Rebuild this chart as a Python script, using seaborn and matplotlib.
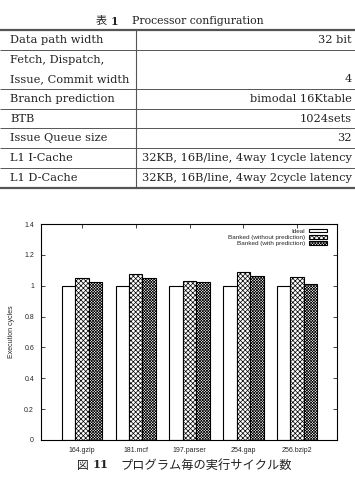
import numpy as np
import pandas as pd
import matplotlib
matplotlib.use("Agg")
import matplotlib.pyplot as plt
import seaborn as sns
from matplotlib.patches import Patch

# ---------------- data ----------------
table_title = "Processor configuration"
table_labels = ["Data path width", "Fetch, Dispatch,\nIssue, Commit width", "Branch prediction",
                "BTB", "Issue Queue size", "L1 I-Cache", "L1 D-Cache"]
table_values = ["32 bit", "4", "bimodal 16Ktable", "1024sets", "32",
                "32KB, 16B/line, 4way 1cycle latency", "32KB, 16B/line, 4way 2cycle latency"]

benchmarks = ["164.gzip", "181.mcf", "197.parser", "254.gap", "256.bzip2"]
series = ["Ideal", "Banked (without prediction)", "Banked (with prediction)"]
ideal = [1.0, 1.0, 1.0, 1.0, 1.0]
banked_wo = [1.048, 1.074, 1.030, 1.086, 1.056]
banked_w = [1.024, 1.052, 1.024, 1.061, 1.011]
yticks = [0, 0.2, 0.4, 0.6, 0.8, 1.0, 1.2, 1.4]
ytick_labels = ["0", "0.2", "0.4", "0.6", "0.8", "1", "1.2", "1.4"]
ylabel = "Execution cycles"
caption = "プログラム毎の実行サイクル数"

# ---------------- style ----------------
sns.set_style("ticks")
plt.rcParams["hatch.linewidth"] = 0.5
plt.rcParams["font.family"] = ["DejaVu Serif", "Noto Sans CJK JP"]

W, H = 355, 479
fig = plt.figure(figsize=(W / 100, H / 100), dpi=100)

bg = fig.add_axes([0, 0, 1, 1])
bg.set_xlim(0, W)
bg.set_ylim(H, 0)
bg.axis("off")

serif = ["DejaVu Serif"]
cjk = ["Noto Sans CJK JP", "DejaVu Sans"]
tc = "#222222"

# table title
bg.text(96, 21, "表", family=cjk, fontsize=8, ha="left", va="center", color=tc)
bg.text(111, 21, "1", family=serif, fontsize=7.8, weight="bold", ha="left", va="center", color=tc)
bg.text(132, 21, table_title, family=serif, fontsize=7.8, ha="left", va="center", color=tc)

row_lines = [30, 50, 89, 109, 128, 148, 168, 188]
for i, y in enumerate(row_lines):
    thick = i in (0, len(row_lines) - 1)
    bg.plot([0, W], [y, y], color="#555555", lw=1.6 if thick else 0.7, solid_capstyle="butt")
bg.plot([136, 136], [30, 188], color="#555555", lw=0.8)

fs_tab = 8.2
for i, (lab, val) in enumerate(zip(table_labels, table_values)):
    top, bot = row_lines[i], row_lines[i + 1]
    lines = lab.split("\n")
    if len(lines) == 1:
        yc = (top + bot) / 2
        bg.text(10, yc, lab, family=serif, fontsize=fs_tab, ha="left", va="center", color=tc)
        bg.text(352, yc, val, family=serif, fontsize=fs_tab, ha="right", va="center", color=tc)
    else:
        ys = [top + 10, bot - 10]
        for yy, ln in zip(ys, lines):
            bg.text(10, yy, ln, family=serif, fontsize=fs_tab, ha="left", va="center", color=tc)
        bg.text(352, ys[-1], val, family=serif, fontsize=fs_tab, ha="right", va="center", color=tc)

# caption
bg.text(77, 465, "図", family=cjk, fontsize=8.5, ha="left", va="center", color=tc)
bg.text(93, 465, "11", family=serif, fontsize=8.2, weight="bold", ha="left", va="center", color=tc)
bg.text(120, 465, caption, family=cjk, fontsize=8.8, ha="left", va="center", color=tc)

# ---------------- chart ----------------
ax = fig.add_axes([41 / W, 1 - 440 / H, (337 - 41) / W, (440 - 224) / H])
df = pd.DataFrame({
    "benchmark": benchmarks * 3,
    "series": [series[0]] * 5 + [series[1]] * 5 + [series[2]] * 5,
    "value": ideal + banked_wo + banked_w,
})
sns.barplot(data=df, x="benchmark", y="value", hue="series", hue_order=series,
            order=benchmarks, palette=["white"] * 3, saturation=1, edgecolor="black",
            linewidth=0.8, width=0.75, ax=ax, legend=False)
hatches = ["", "xxxxxxx", "xxxxxxxxxxxx"]
hatch_colors = ["black", "black", "#666666"]


def style_patch(p, h, hc):
    p.set_hatch(h)
    p.set_edgecolor("black")
    if hasattr(p, "set_hatchcolor"):
        try:
            p.set_hatchcolor(hc)
        except Exception:
            pass


for cont, h, hc in zip(ax.containers, hatches, hatch_colors):
    for p in cont:
        style_patch(p, h, hc)

ax.set_xlim(-0.76, 4.74)
ax.set_ylim(0, 1.4)
ax.set_yticks(yticks)
ax.set_yticklabels(ytick_labels)
sans = ["Liberation Sans", "DejaVu Sans"]
for t in ax.get_xticklabels() + ax.get_yticklabels():
    t.set_family(sans)
    t.set_fontsize(5)
ax.set_xlabel("")
ax.set_ylabel(ylabel, family=sans, fontsize=5)
ax.yaxis.set_label_coords(-(41 - 15) / 296, 0.5)
ax.tick_params(direction="in", top=True, right=True, length=3, width=0.6, pad=5)
for s in ax.spines.values():
    s.set_visible(True)
    s.set_linewidth(0.8)
    s.set_color("black")

handles = []
for h, hc in zip(hatches, hatch_colors):
    ph = Patch(facecolor="white", edgecolor="black", linewidth=0.8)
    style_patch(ph, h, hc)
    handles.append(ph)
ax.legend(handles, series, loc="upper right", bbox_to_anchor=(1 - 7 / 296, 1 - 2 / 216),
          borderaxespad=0, frameon=False, markerfirst=False,
          handlelength=2.9, handleheight=0.55, handletextpad=0.6, labelspacing=0.15,
          prop={"family": sans, "size": 4.6})

fig.savefig("out.png", dpi=100)
